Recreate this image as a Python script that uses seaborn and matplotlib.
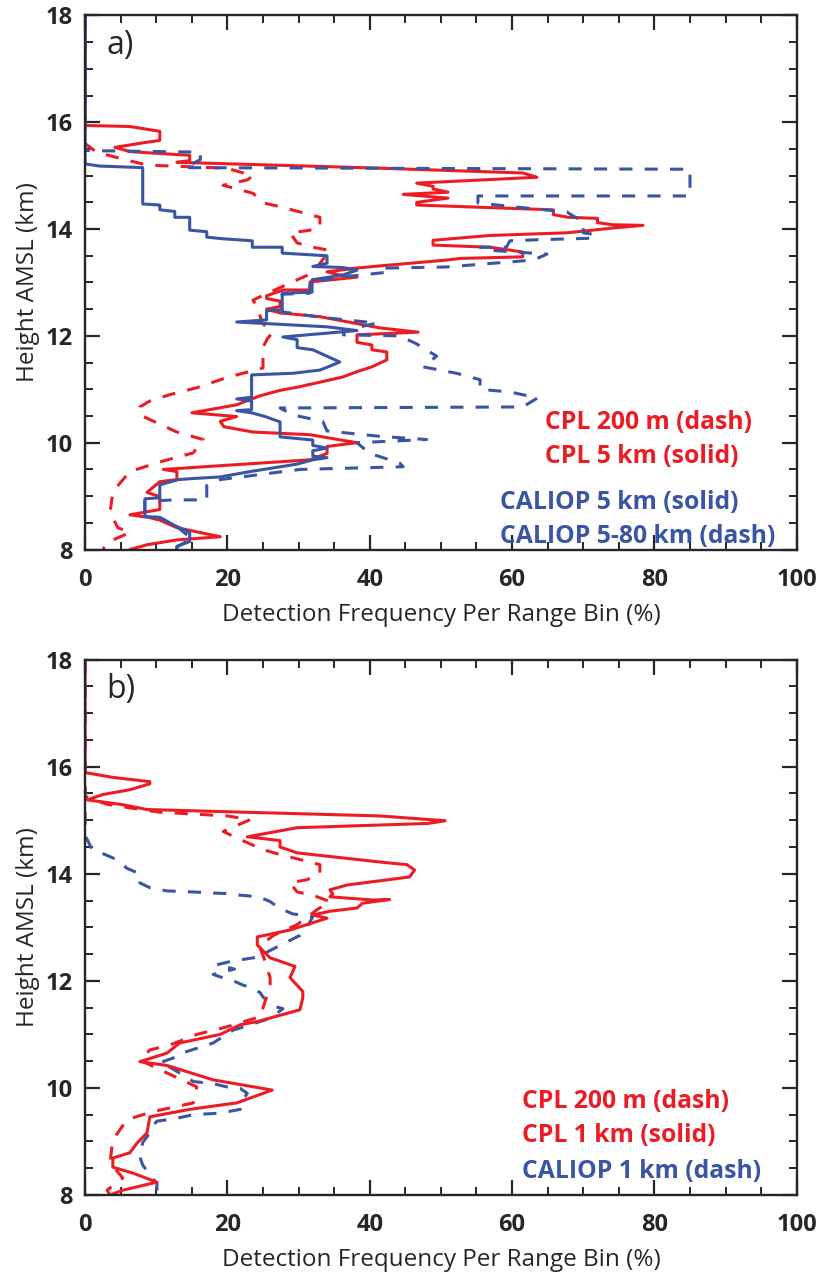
import matplotlib
matplotlib.use("Agg")
import matplotlib.pyplot as plt
import seaborn as sns
import pandas as pd

# ---- panel a) ----
a_cal5_x = [0, 0, 2, 8.1, 8.1, 10.5, 10.5, 12.6, 12.6, 14.7, 14.7, 17.1, 17.1, 19.2, 23.5, 23.5, 27.7, 27.7,
            34, 34, 32, 36.2, 38.2, 36.2, 31.9, 31.9, 27.7, 27.7, 25.5, 25.5, 21.3, 34, 38.2, 27.8, 29.8, 29.8,
            32, 35.8, 33, 29.2, 23.4, 23.4, 21.3, 23.4, 23.4, 21.3, 23.4, 25.3, 27.4, 27.4, 32, 32, 34, 32, 32,
            34, 32, 29.8, 23.2, 19, 15.2, 13.1, 10.5, 10.5, 8.4, 8.4, 10.5, 12.9, 14.7, 14.7, 12.9, 12.9]
a_cal5_y = [18, 15.22, 15.18, 15.15, 14.47, 14.45, 14.36, 14.33, 14.22, 14.22, 13.98, 13.95, 13.85, 13.82, 13.78,
            13.66, 13.66, 13.55, 13.5, 13.36, 13.3, 13.28, 13.23, 13.14, 13.05, 12.82, 12.8, 12.49, 12.47, 12.3,
            12.26, 12.17, 12.1, 11.98, 11.93, 11.78, 11.74, 11.51, 11.36, 11.3, 11.27, 10.85, 10.82, 10.78, 10.62,
            10.6, 10.56, 10.49, 10.39, 10.11, 10.05, 9.95, 9.9, 9.85, 9.75, 9.72, 9.68, 9.6, 9.46, 9.36, 9.33,
            9.31, 9.21, 8.97, 8.95, 8.62, 8.6, 8.43, 8.32, 8.15, 8.06, 8.0]

a_cal580_x = [0, 0, 16.2, 16.2, 14, 85, 85, 55.2, 55.2, 60, 67.7, 70, 70, 71.6, 71.6, 63.5, 59.7, 59.2, 55.5,
              57.3, 64.9, 63, 59.2, 50.8, 42.4, 43, 36, 31.6, 31.6, 27.7, 27.7, 33, 41, 36.3, 36.3, 44.2, 46.6,
              49.4, 47.5, 52.2, 55.5, 55.5, 59.7, 63.6, 61.5, 27.4, 29.2, 33.4, 34, 41.4, 48, 38.2, 40, 44.2,
              44.7, 30.2, 19, 17.1, 17.1, 12.4, 8.4, 8.4, 10.5, 12.9, 15, 12.9, 12.9]
a_cal580_y = [18, 15.47, 15.44, 15.3, 15.15, 15.12, 14.62, 14.62, 14.49, 14.42, 14.32, 14.13, 13.93, 13.9, 13.83,
              13.8, 13.78, 13.66, 13.66, 13.6, 13.53, 13.42, 13.38, 13.29, 13.27, 13.2, 13.1, 13.0, 12.8, 12.78,
              12.45, 12.35, 12.24, 12.1, 12.02, 12.0, 11.85, 11.62, 11.42, 11.3, 11.18, 11.0, 10.95, 10.84,
              10.67, 10.65, 10.52, 10.4, 10.22, 10.12, 10.06, 10.0, 9.8, 9.62, 9.55, 9.5, 9.31, 9.2, 8.93, 8.93,
              8.9, 8.62, 8.6, 8.43, 8.2, 8.05, 8.0]

a_cpl5_x = [0, 0, 6.3, 10.5, 10.5, 8.4, 4.2, 6.3, 14.7, 14.7, 12.9, 41.4, 61.5, 63.5, 46.6, 48.9, 48.9, 51, 44.7,
            51, 46.6, 46.6, 65.8, 65.8, 67.9, 72, 72, 74.2, 78.4, 74.2, 67.7, 56.9, 48.9, 48.9, 56.9, 61.5, 61.5,
            52.7, 50.8, 41.4, 38.2, 34, 35.8, 38.2, 31.6, 31.6, 27.8, 25.5, 25.5, 27.4, 27.4, 25.5, 27.4, 33,
            41.4, 46.8, 38.2, 38.2, 40.3, 40.3, 42.4, 42.4, 40.3, 38.2, 36.2, 30.2, 27.4, 24.6, 21.3, 15, 21.3,
            19, 19.5, 23.6, 31.6, 38.2, 34, 34, 31.6, 11, 12.9, 12.9, 10.5, 8.7, 10.5, 10.5, 6.3, 9, 10.5, 12.9,
            19, 12.9, 8.7, 6.3]
a_cpl5_y = [18, 15.94, 15.92, 15.83, 15.66, 15.62, 15.53, 15.45, 15.38, 15.28, 15.25, 15.14, 15.05, 14.97,
            14.86, 14.8, 14.75, 14.69, 14.65, 14.58, 14.5, 14.45, 14.36, 14.27, 14.22, 14.2, 14.12, 14.08, 14.07,
            14.02, 13.93, 13.88, 13.79, 13.7, 13.66, 13.57, 13.48, 13.45, 13.42, 13.31, 13.27, 13.2, 13.14, 13.1,
            13.01, 12.86, 12.86, 12.75, 12.7, 12.65, 12.55, 12.5, 12.43, 12.36, 12.15, 12.07, 12.02, 11.88,
            11.83, 11.74, 11.7, 11.55, 11.42, 11.33, 11.23, 11.05, 10.98, 10.88, 10.71, 10.56, 10.49, 10.4,
            10.3, 10.2, 10.15, 10.0, 9.93, 9.8, 9.68, 9.5, 9.46, 9.31, 9.27, 9.07, 8.99, 8.75, 8.65, 8.6, 8.55,
            8.41, 8.24, 8.18, 8.09, 8.0]

a_cpl200_x = [0, 0, 1.6, 5.9, 8.7, 10.1, 19.9, 23.6, 22.8, 19.4, 23.6, 25, 27.4, 33, 33, 31.2, 28.8, 29.8, 32,
              34.4, 33, 32, 29.8, 26.5, 23.6, 24.2, 24.9, 26.3, 25.6, 25, 25, 25, 19.9, 15.7, 11.9, 9.1, 7.7, 7.7,
              12.9, 16.6, 15.2, 10.5, 6.3, 4.5, 3.9, 3.5, 4.6, 6.3, 3.1, 2.5]
a_cpl200_y = [18, 15.6, 15.44, 15.29, 15.2, 15.19, 15.14, 15.0, 14.92, 14.82, 14.67, 14.49, 14.42, 14.22, 14.02,
              13.97, 13.93, 13.74, 13.66, 13.6, 13.36, 13.18, 13.05, 12.85, 12.67, 12.54, 12.24, 12.06, 11.94,
              11.79, 11.64, 11.4, 11.22, 11.03, 10.9, 10.78, 10.67, 10.52, 10.2, 10.06, 9.81, 9.64, 9.46, 9.18,
              9.07, 8.69, 8.41, 8.32, 8.13, 8.0]

# ---- panel b) ----
b_cpl1_x = [0, 0, 3.9, 9.1, 9.1, 6.3, 2.5, 0.3, 5.3, 8.7, 41.4, 50.6, 48.2, 34.4, 29.8, 22.8, 27.4, 27.4, 29.8,
            41.4, 45.2, 46.3, 45.6, 36.8, 34.4, 34.8, 34.4, 40.4, 42.8, 39, 38.2, 34.4, 32, 34, 28.8, 24.2, 24.2,
            26, 29.5, 28.8, 30.6, 30.6, 30.2, 24.2, 21.8, 19, 13.3, 11.5, 7.7, 11.5, 18, 26.3, 21.3, 14.7, 9.1,
            8.7, 7.3, 6.3, 3.9, 3.9, 6.7, 10.1, 5.3, 3.5]
b_cpl1_y = [18, 15.89, 15.8, 15.72, 15.68, 15.57, 15.48, 15.38, 15.29, 15.2, 15.08, 14.99, 14.94, 14.88, 14.86,
            14.69, 14.62, 14.5, 14.39, 14.22, 14.17, 14.07, 13.94, 13.79, 13.7, 13.62, 13.57, 13.51, 13.52, 13.45,
            13.36, 13.3, 13.23, 13.17, 12.95, 12.82, 12.67, 12.43, 12.27, 12.06, 11.8, 11.69, 11.46, 11.24,
            11.18, 11.0, 10.84, 10.65, 10.49, 10.42, 10.15, 9.96, 9.72, 9.6, 9.46, 9.16, 8.97, 8.79, 8.69, 8.52,
            8.41, 8.24, 8.09, 8.0]

b_cpl200_x = [0, 0, 3, 6.3, 10.5, 20, 23.2, 19.4, 21.8, 25, 27.4, 33, 33, 31.2, 28.8, 29.8, 32, 34.4, 32.6,
              29.8, 26.5, 24.5, 25.2, 26, 26, 25.5, 24.6, 19.9, 15.7, 11.9, 9.1, 7.7, 11.5, 15.7, 15.2, 9.6, 5.9,
              3.9, 3.5, 5.3, 3.1, 3.5]
b_cpl200_y = [18, 15.45, 15.3, 15.23, 15.15, 15.08, 15.01, 14.79, 14.64, 14.45, 14.36, 14.17, 14.0, 13.89,
              13.83, 13.66, 13.6, 13.48, 13.33, 13.05, 12.85, 12.65, 12.4, 12.06, 11.93, 11.7, 11.33, 11.14, 11.0,
              10.8, 10.71, 10.52, 10.28, 10.02, 9.72, 9.56, 9.41, 9.03, 8.6, 8.32, 8.09, 8.0]

b_cal1_x = [0, 0, 0.3, 1, 2.8, 4.5, 5.9, 7.7, 7.7, 9.1, 11.5, 13.3, 15.2, 18, 19.9, 21.8, 23.6, 24.6, 26, 27.4,
            29.2, 32, 31.2, 30.2, 25.6, 24.6, 22.2, 20.4, 18.5, 21, 18, 19.5, 21, 22.2, 23.2, 24.6, 25, 26.4,
            27.8, 26, 21.8, 20.8, 18, 17.1, 12.9, 12.4, 10.5, 11.5, 12.9, 15.2, 18, 19.9, 21.8, 22.8, 22.2, 21.8,
            19, 15.2, 12.4, 10.1, 9.4, 9.1, 8.1, 7.7, 8.1, 9.4, 10.1, 10.1]
b_cal1_y = [18, 14.7, 14.64, 14.45, 14.36, 14.26, 14.1, 14.0, 13.83, 13.74, 13.68, 13.67, 13.66, 13.64, 13.63,
            13.6, 13.58, 13.56, 13.48, 13.35, 13.25, 13.2, 13.0, 12.85, 12.54, 12.45, 12.4, 12.36, 12.3, 12.22,
            12.12, 12.05, 11.99, 11.92, 11.88, 11.78, 11.7, 11.53, 11.48, 11.3, 11.12, 11.08, 10.84, 10.8, 10.62,
            10.56, 10.47, 10.42, 10.31, 10.12, 10.08, 10.02, 9.99, 9.9, 9.78, 9.6, 9.53, 9.5, 9.42, 9.38, 9.27,
            9.16, 8.98, 8.71, 8.56, 8.32, 8.22, 8.0]

legend_a = ["CPL 200 m (dash)", "CPL 5 km (solid)", "CALIOP 5 km (solid)", "CALIOP 5-80 km (dash)"]
legend_b = ["CPL 200 m (dash)", "CPL 1 km (solid)", "CALIOP 1 km (dash)"]

RED = "#ED1C24"
BLUE = "#3A55A4"
DASH = (0, (4.3, 4.0))

sns.set_style("ticks")
plt.rcParams['font.family'] = ['Open Sans', 'DejaVu Sans']
plt.rcParams['xtick.direction'] = 'in'
plt.rcParams['ytick.direction'] = 'in'

fig = plt.figure(figsize=(8.18, 12.84), dpi=100)
ax_a = fig.add_axes([0.104, 0.572, 0.870, 0.416])
ax_b = fig.add_axes([0.104, 0.0693, 0.870, 0.417])


def draw(ax, x, y, color, dashed):
    df = pd.DataFrame({"x": x, "y": y})
    sns.lineplot(data=df, x="x", y="y", ax=ax, sort=False, estimator=None, color=color,
                 linewidth=2.2, linestyle=DASH if dashed else "-")


draw(ax_a, a_cpl200_x, a_cpl200_y, RED, True)
draw(ax_a, a_cpl5_x, a_cpl5_y, RED, False)
draw(ax_a, a_cal580_x, a_cal580_y, BLUE, True)
draw(ax_a, a_cal5_x, a_cal5_y, BLUE, False)

draw(ax_b, b_cal1_x, b_cal1_y, BLUE, True)
draw(ax_b, b_cpl200_x, b_cpl200_y, RED, True)
draw(ax_b, b_cpl1_x, b_cpl1_y, RED, False)

for ax, tag in [(ax_a, "a)"), (ax_b, "b)")]:
    ax.set_xlim(0, 100)
    ax.set_ylim(8, 18)
    ax.set_xticks([0, 20, 40, 60, 80, 100])
    ax.set_xticks(range(0, 101, 5), minor=True)
    ax.set_yticks([8, 10, 12, 14, 16, 18])
    ax.set_yticks([8 + 0.5 * i for i in range(21)], minor=True)
    ax.tick_params(which="major", length=11, width=1.6, top=True, right=True, labelsize=17, pad=9)
    ax.tick_params(which="minor", length=6, width=1.4, top=True, right=True)
    ax.tick_params(axis="x", which="major", pad=13)
    for lab in ax.get_xticklabels() + ax.get_yticklabels():
        lab.set_fontweight("bold")
    for s in ax.spines.values():
        s.set_linewidth(1.7)
    ax.set_xlabel("Detection Frequency Per Range Bin (%)", fontsize=17.5, labelpad=8)
    ax.set_ylabel("Height AMSL (km)", fontsize=17.5, labelpad=4)
    ax.text(0.03, 0.975, tag, transform=ax.transAxes, fontsize=23, va="top", ha="left")

# legend texts (panel a)
for txt, col, xv, yv in zip(legend_a, [RED, RED, BLUE, BLUE], [64.6, 64.6, 58.3, 58.3],
                            [10.37, 9.74, 8.88, 8.24]):
    ax_a.text(xv, yv, txt, color=col, fontsize=17.8, fontweight="bold", va="center", ha="left")
for txt, col, yv in zip(legend_b, [RED, RED, BLUE], [9.74, 9.12, 8.43]):
    ax_b.text(61.4, yv, txt, color=col, fontsize=17.8, fontweight="bold", va="center", ha="left")

fig.savefig("out.png", dpi=100)
